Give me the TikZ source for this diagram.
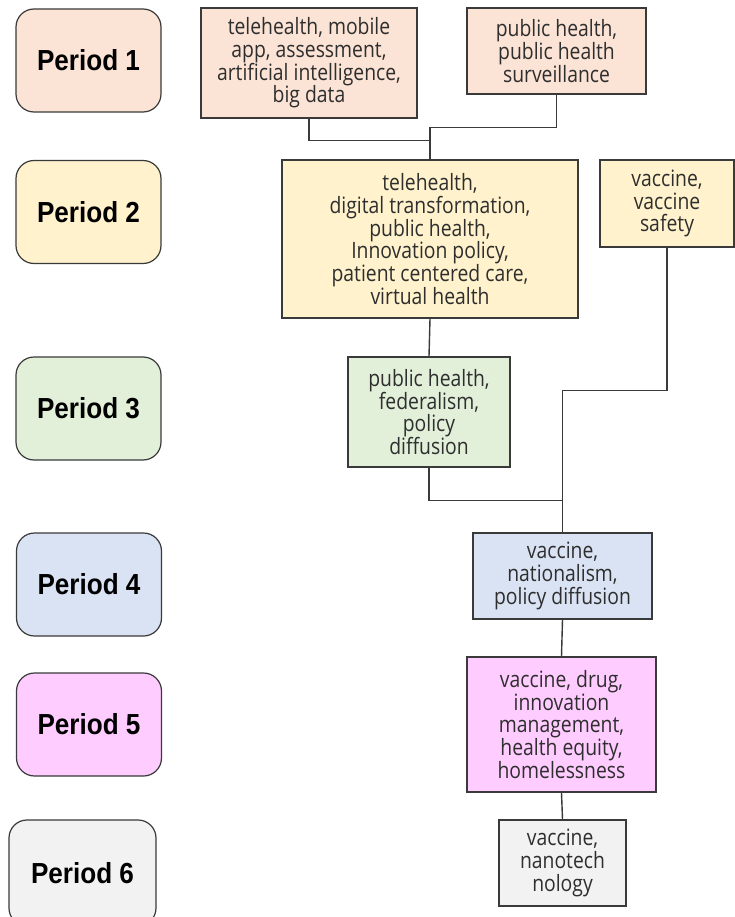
\documentclass[tikz,border=0pt]{standalone}
\usepackage{fontspec}
\setmainfont{Open Sans}[FakeStretch=0.86]
\newfontfamily\periodfont{Liberation Sans}[FakeStretch=0.9]
\definecolor{pA}{HTML}{FBE3D5}
\definecolor{pB}{HTML}{FFF2CC}
\definecolor{pC}{HTML}{E2F0D9}
\definecolor{pD}{HTML}{DAE3F3}
\definecolor{pE}{HTML}{FFCCFF}
\definecolor{pF}{HTML}{F2F2F2}
\definecolor{edge}{HTML}{3A3A3A}
\definecolor{ink}{HTML}{2E2E2E}
\tikzset{
  period/.style={draw=edge, line width=1.2pt, rounded corners=18pt,
    minimum width=145pt, minimum height=103pt,
    font=\periodfont\bfseries\fontsize{29}{31}\selectfont, text=black},
  topic/.style={draw=edge, line width=1.4pt, align=center, inner sep=1pt,
    font=\fontsize{22.5}{22.7}\selectfont, text=ink},
  link/.style={draw=edge, line width=1.4pt}
}
\begin{document}
\begin{tikzpicture}[x=1pt,y=-1pt]
\clip (0,0) rectangle (735,917);
\fill[white] (0,0) rectangle (735,917);

% period labels
\node[period, fill=pA] (p1) at (88.5,60.5) {Period 1};
\node[period, fill=pB] (p2) at (88.5,212) {Period 2};
\node[period, fill=pC] (p3) at (88.5,408.5) {Period 3};
\node[period, fill=pD] (p4) at (89,584.5) {Period 4};
\node[period, fill=pE] (p5) at (89,724.5) {Period 5};
\node[period, fill=pF, minimum width=147pt, minimum height=106pt] (p6) at (82.5,873) {Period 6};

% topic boxes
\node[topic, fill=pA, minimum width=216pt, minimum height=110pt] (a) at (309,63)
  {telehealth, mobile\\app, assessment,\\artificial intelligence,\\big data};
\node[topic, fill=pA, minimum width=179pt, minimum height=86pt] (b) at (556.5,51)
  {public health,\\public health\\surveillance};
\node[topic, fill=pB, minimum width=296pt, minimum height=158pt] (c) at (430,239)
  {telehealth,\\digital transformation,\\public health,\\Innovation policy,\\patient centered care,\\virtual health};
\node[topic, fill=pB, minimum width=134pt, minimum height=87pt] (d) at (667,203.5)
  {vaccine,\\vaccine\\safety};
\node[topic, fill=pC, minimum width=162pt, minimum height=110pt] (e) at (429,412)
  {public health,\\federalism,\\policy\\diffusion};
\node[topic, fill=pD, minimum width=179pt, minimum height=86pt] (f) at (562.5,576)
  {vaccine,\\nationalism,\\policy diffusion};
\node[topic, fill=pE, minimum width=189pt, minimum height=135pt] (g) at (561.5,724.5)
  {vaccine, drug,\\innovation\\management,\\health equity,\\homelessness};
\node[topic, fill=pF, minimum width=127pt, minimum height=86pt] (h) at (562.5,863)
  {vaccine,\\nanotech\\nology};

% connectors
\draw[link] (a.south) -- ++(0,22) -| (c.north);
\draw[link] (b.south) -- ++(0,33) -| (c.north);
\draw[link] (c.south) -- (e.north);
\draw[link] (d.south) -- ++(0,143) -| (f.north);
\draw[link] (e.south) -- ++(0,33) -| (f.north);
\draw[link] (f.south) -- (g.north);
\draw[link] (g.south) -- (h.north);
\end{tikzpicture}
\end{document}
